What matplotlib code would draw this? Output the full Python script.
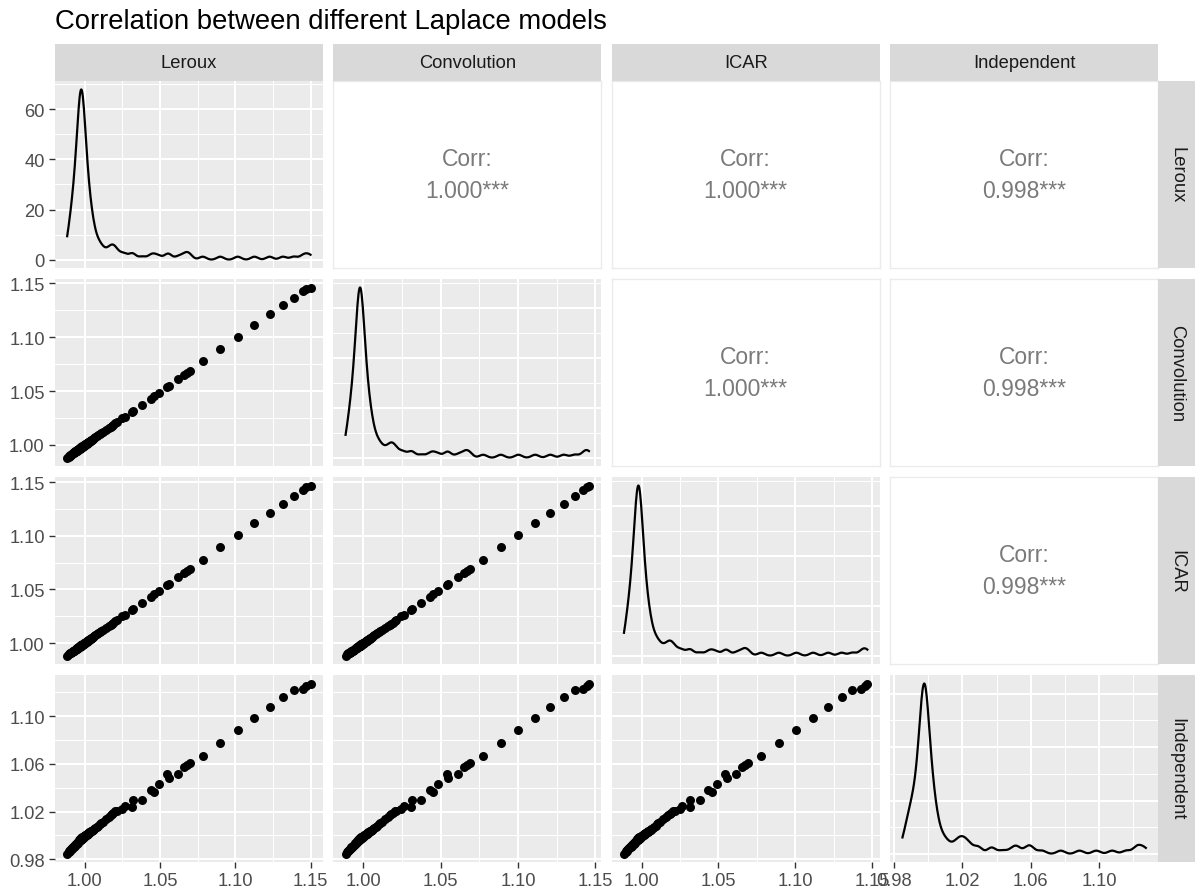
import numpy as np
import matplotlib.pyplot as plt
from matplotlib.ticker import MultipleLocator, AutoMinorLocator, FormatStrFormatter

plt.rcParams['font.family'] = ['Liberation Sans', 'DejaVu Sans']

leroux = [
    0.9885, 0.9894, 0.9899, 0.9903, 0.9907, 0.9911, 0.9914, 0.9917, 0.9920, 0.9923,
    0.9926, 0.9929, 0.9931, 0.9934, 0.9936, 0.9938, 0.9940, 0.9943, 0.9945, 0.9947,
    0.9949, 0.9951, 0.9952, 0.9954, 0.9956, 0.9958, 0.9960, 0.9961, 0.9963, 0.9965,
    0.9966, 0.9968, 0.9970, 0.9971, 0.9973, 0.9974, 0.9976, 0.9977,
    0.9968, 0.9970, 0.9971, 0.9972, 0.9973, 0.9974, 0.9975, 0.9976, 0.9977, 0.9978,
    0.9978, 0.9979, 0.9980, 0.9981, 0.9982, 0.9983, 0.9984, 0.9986, 0.9988, 0.9990,
    0.9979, 0.9980, 0.9982, 0.9983, 0.9985, 0.9986, 0.9988, 0.9989, 0.9991, 0.9992,
    0.9994, 0.9996, 0.9997, 0.9999, 1.0001, 1.0002, 1.0004, 1.0006, 1.0008, 1.0010,
    1.0012, 1.0014, 1.0016, 1.0018, 1.0021, 1.0023, 1.0025, 1.0028, 1.0030, 1.0033,
    1.0036, 1.0039, 1.0042, 1.0046, 1.0049, 1.0054, 1.0058, 1.0064,
    1.0072, 1.0082, 1.0091, 1.0100, 1.0110, 1.0121,
    1.0142, 1.0162, 1.0174, 1.0183, 1.0192, 1.0205,
    1.0216, 1.0251, 1.0267, 1.0316, 1.0320, 1.0382, 1.0438, 1.0460, 1.0493, 1.0549, 1.0560,
    1.0622, 1.0660, 1.0681, 1.0699,
    1.0784, 1.0900, 1.1016, 1.1127, 1.1227, 1.1316, 1.1387,
    1.1446, 1.1472, 1.1499]

convolution = [
    0.9884, 0.9893, 0.9899, 0.9902, 0.9907, 0.9910, 0.9914, 0.9916, 0.9920, 0.9922,
    0.9926, 0.9928, 0.9931, 0.9933, 0.9936, 0.9938, 0.9940, 0.9942, 0.9945, 0.9947,
    0.9948, 0.9951, 0.9952, 0.9954, 0.9955, 0.9958, 0.9959, 0.9961, 0.9963, 0.9964,
    0.9966, 0.9968, 0.9969, 0.9971, 0.9972, 0.9974, 0.9975, 0.9977,
    0.9967, 0.9969, 0.9970, 0.9971, 0.9972, 0.9973, 0.9974, 0.9975, 0.9976, 0.9977,
    0.9977, 0.9978, 0.9979, 0.9980, 0.9981, 0.9982, 0.9983, 0.9985, 0.9987, 0.9989,
    0.9978, 0.9980, 0.9981, 0.9983, 0.9984, 0.9986, 0.9987, 0.9989, 0.9990, 0.9992,
    0.9993, 0.9995, 0.9997, 0.9998, 1.0000, 1.0002, 1.0003, 1.0005, 1.0007, 1.0009,
    1.0011, 1.0013, 1.0015, 1.0017, 1.0020, 1.0022, 1.0024, 1.0027, 1.0029, 1.0032,
    1.0035, 1.0038, 1.0041, 1.0045, 1.0048, 1.0052, 1.0057, 1.0062,
    1.0070, 1.0080, 1.0089, 1.0098, 1.0108, 1.0119,
    1.0139, 1.0159, 1.0171, 1.0180, 1.0189, 1.0201,
    1.0212, 1.0246, 1.0262, 1.0310, 1.0314, 1.0375, 1.0430, 1.0452, 1.0484, 1.0540, 1.0550,
    1.0612, 1.0649, 1.0670, 1.0688,
    1.0775, 1.0889, 1.1003, 1.1112, 1.1210, 1.1297, 1.1367,
    1.1424, 1.1446, 1.1460]

icar = [
    0.9884, 0.9894, 0.9898, 0.9903, 0.9906, 0.9911, 0.9913, 0.9917, 0.9919, 0.9923,
    0.9925, 0.9929, 0.9930, 0.9934, 0.9935, 0.9938, 0.9939, 0.9943, 0.9944, 0.9947,
    0.9948, 0.9951, 0.9951, 0.9954, 0.9955, 0.9958, 0.9959, 0.9961, 0.9962, 0.9965,
    0.9966, 0.9968, 0.9969, 0.9971, 0.9972, 0.9974, 0.9975, 0.9977,
    0.9967, 0.9969, 0.9971, 0.9971, 0.9973, 0.9973, 0.9975, 0.9975, 0.9977, 0.9977,
    0.9978, 0.9979, 0.9979, 0.9981, 0.9981, 0.9983, 0.9984, 0.9985, 0.9987, 0.9989,
    0.9978, 0.9980, 0.9981, 0.9983, 0.9984, 0.9986, 0.9987, 0.9989, 0.9990, 0.9992,
    0.9993, 0.9995, 0.9996, 0.9998, 1.0000, 1.0002, 1.0003, 1.0005, 1.0007, 1.0009,
    1.0011, 1.0013, 1.0015, 1.0017, 1.0020, 1.0022, 1.0024, 1.0027, 1.0029, 1.0032,
    1.0035, 1.0038, 1.0041, 1.0045, 1.0048, 1.0053, 1.0057, 1.0063,
    1.0071, 1.0081, 1.0090, 1.0099, 1.0109, 1.0120,
    1.0140, 1.0160, 1.0172, 1.0181, 1.0190, 1.0203,
    1.0214, 1.0248, 1.0264, 1.0313, 1.0317, 1.0378, 1.0434, 1.0456, 1.0488, 1.0544, 1.0555,
    1.0617, 1.0654, 1.0675, 1.0693,
    1.0779, 1.0893, 1.1008, 1.1117, 1.1215, 1.1302, 1.1372,
    1.1430, 1.1452, 1.1470]

independent = [
    0.9849, 0.9861, 0.9868, 0.9874, 0.9879, 0.9884, 0.9888, 0.9892, 0.9896, 0.9900,
    0.9904, 0.9907, 0.9911, 0.9914, 0.9917, 0.9920, 0.9923, 0.9926, 0.9928, 0.9931,
    0.9934, 0.9936, 0.9939, 0.9941, 0.9944, 0.9946, 0.9949, 0.9951, 0.9953, 0.9955,
    0.9958, 0.9960, 0.9962, 0.9964, 0.9966, 0.9968, 0.9970, 0.9972,
    0.9965, 0.9958, 0.9969, 0.9961, 0.9971, 0.9964, 0.9974, 0.9967, 0.9977, 0.9969,
    0.9979, 0.9970, 0.9981, 0.9972, 0.9983, 0.9975, 0.9986, 0.9977, 0.9990, 0.9980,
    0.9974, 0.9975, 0.9976, 0.9978, 0.9979, 0.9981, 0.9982, 0.9984, 0.9985, 0.9987,
    0.9988, 0.9990, 0.9991, 0.9993, 0.9995, 0.9996, 0.9998, 1.0000, 1.0002, 1.0003,
    1.0005, 1.0007, 1.0009, 1.0011, 1.0014, 1.0016, 1.0018, 1.0020, 1.0023, 1.0025,
    1.0028, 1.0031, 1.0034, 1.0037, 1.0041, 1.0045, 1.0049, 1.0054,
    1.0062, 1.0072, 1.0082, 1.0092, 1.0103, 1.0114,
    1.0136, 1.0157, 1.0170, 1.0180, 1.0190, 1.0203,
    1.0208, 1.0222, 1.0251, 1.0237, 1.0293, 1.0293, 1.0377, 1.0363, 1.0434, 1.0518, 1.0485,
    1.0518, 1.0575, 1.0590, 1.0608,
    1.0665, 1.0775, 1.0885, 1.0983, 1.1076, 1.1158, 1.1215,
    1.1225, 1.1250, 1.1273]

models = ["Leroux", "Convolution", "ICAR", "Independent"]
data = [np.array(leroux), np.array(convolution), np.array(icar), np.array(independent)]
tick_step = [0.05, 0.05, 0.05, 0.04]
tick_offset = [0.0, 0.0, 0.0, 0.02]
corr_labels = {(0, 1): "1.000***", (0, 2): "1.000***", (0, 3): "0.998***",
               (1, 2): "1.000***", (1, 3): "0.998***", (2, 3): "0.998***"}
bw = 0.0024

W, H = 1195, 895
col_x = [55, 333.4, 611.8, 890.3]
col_w = 267.7
row_y = [82, 280, 478, 676]
row_h = 187
strip = 37


def rect(x, y, w, h):
    return [x / W, 1 - (y + h) / H, w / W, h / H]


def lims(v):
    span = v.max() - v.min()
    return v.min() - 0.05 * span, v.max() + 0.05 * span


def density(v):
    grid = np.linspace(v.min(), v.max(), 512)
    d = np.exp(-0.5 * ((grid[:, None] - v[None, :]) / bw) ** 2).sum(axis=1)
    return grid, d / (len(v) * bw * np.sqrt(2 * np.pi))


fig = plt.figure(figsize=(W / 100, H / 100), dpi=100)
fig.text(55 / W, 1 - 29 / H, "Correlation between different Laplace models",
         fontsize=19.8, color='black', va='baseline', ha='left')

grey_txt = '#4D4D4D'
for i in range(4):
    for j in range(4):
        ax = fig.add_axes(rect(col_x[j], row_y[i], col_w, row_h))
        if i < j:
            ax.set_facecolor('white')
            for s in ax.spines.values():
                s.set_color('#EBEBEB')
                s.set_linewidth(1.0)
            ax.set_xticks([])
            ax.set_yticks([])
            ax.text(0.5, 0.5, "Corr:\n" + corr_labels[(i, j)], transform=ax.transAxes,
                    ha='center', va='center', fontsize=16.5, color='#7A7A7A',
                    linespacing=1.55)
            continue

        ax.set_facecolor('#EBEBEB')
        for s in ax.spines.values():
            s.set_visible(False)
        ax.set_axisbelow(True)
        ax.set_xlim(*lims(data[j]))
        ax.xaxis.set_major_locator(MultipleLocator(tick_step[j], tick_offset[j]))
        ax.xaxis.set_minor_locator(AutoMinorLocator(2))
        ax.xaxis.set_major_formatter(FormatStrFormatter('%.2f'))

        if i == j:
            gx, gy = density(data[j])
            ax.plot(gx, gy, color='black', lw=1.6)
            span = gy.max() - gy.min()
            ax.set_ylim(gy.min() - 0.05 * span, gy.max() + 0.05 * span)
            ax.yaxis.set_major_locator(MultipleLocator(20))
            ax.yaxis.set_major_formatter(FormatStrFormatter('%d'))
        else:
            ax.scatter(data[j], data[i], s=42, c='black', linewidths=0)
            ax.set_ylim(*lims(data[i]))
            ax.yaxis.set_major_locator(MultipleLocator(tick_step[i], tick_offset[i]))
            ax.yaxis.set_major_formatter(FormatStrFormatter('%.2f'))
        ax.yaxis.set_minor_locator(AutoMinorLocator(2))

        ax.grid(which='major', color='white', lw=1.5)
        ax.grid(which='minor', color='white', lw=0.75)
        ax.tick_params(which='minor', length=0)
        ax.tick_params(axis='x', which='major', length=4.1 if i == 3 else 0,
                       width=1.0, color='#333333', labelsize=13.2,
                       labelcolor=grey_txt, pad=3.3, labelbottom=(i == 3))
        ax.tick_params(axis='y', which='major', length=4.1 if j == 0 else 0,
                       width=1.0, color='#333333', labelsize=13.2,
                       labelcolor=grey_txt, pad=3.3, labelleft=(j == 0))

# facet strips
for j, name in enumerate(models):
    sx = fig.add_axes(rect(col_x[j], row_y[0] - strip, col_w, strip))
    sx.set_facecolor('#D9D9D9')
    sx.set_xticks([]); sx.set_yticks([])
    for s in sx.spines.values():
        s.set_visible(False)
    sx.text(0.5, 0.5, name, ha='center', va='center', fontsize=13.2,
            color='#1A1A1A', transform=sx.transAxes)

for i, name in enumerate(models):
    sy = fig.add_axes(rect(col_x[3] + col_w, row_y[i], strip, row_h))
    sy.set_facecolor('#D9D9D9')
    sy.set_xticks([]); sy.set_yticks([])
    for s in sy.spines.values():
        s.set_visible(False)
    sy.text(0.5, 0.5, name, ha='center', va='center', fontsize=13.2,
            color='#1A1A1A', rotation=-90, transform=sy.transAxes)

fig.savefig('out.png', dpi=100)
